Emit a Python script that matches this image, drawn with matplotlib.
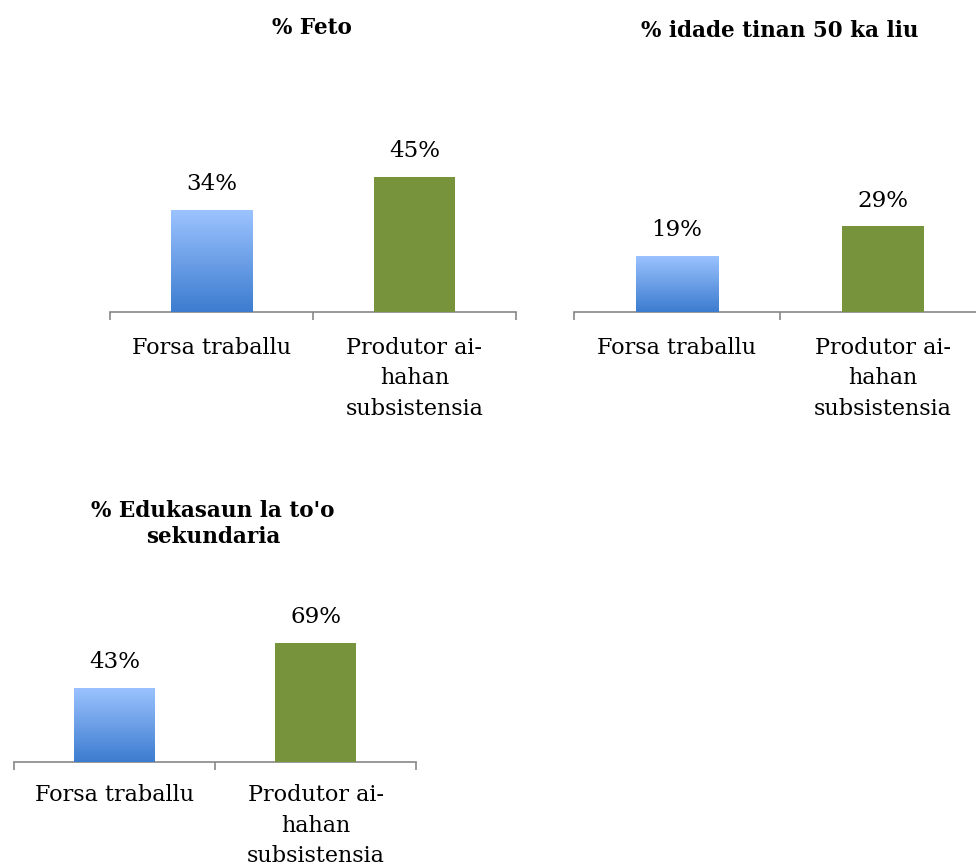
import numpy as np
import matplotlib.pyplot as plt
from matplotlib.colors import LinearSegmentedColormap

W, H = 976, 866

categories = ["Forsa traballu", "Produtor ai-\nhahan\nsubsistensia"]
titles = ["% Feto", "% idade tinan 50 ka liu", "% Edukasaun la to'o\nsekundaria"]
feto = [34, 45]
idade_50 = [19, 29]
edukasaun = [43, 69]
panels = [feto, idade_50, edukasaun]
ymax = [50, 50, 80]

# panel boxes in pixels: left, axis-line y, width, height
boxes = [(110, 312, 406, 150), (574, 312, 412, 147.5), (14, 762, 402, 138)]
title_xy = [(312, 28), (780, 31), (213, 524)]
label_pad = [18, 18, 16]

GREEN = "#77933C"
AXIS = "#878787"
blue_cmap = LinearSegmentedColormap.from_list("bl", ["#3C7CCF", "#9CC3FF"])

plt.rcParams["font.family"] = ["DejaVu Serif"]

fig = plt.figure(figsize=(W / 100, H / 100), dpi=100)

for vals, tt, ym, (l, yb, w, h), (tx, ty), pad in zip(panels, titles, ymax, boxes,
                                                       title_xy, label_pad):
    ax = fig.add_axes([l / W, (H - yb) / H, w / W, h / H])
    x = np.arange(len(vals))
    bars = ax.bar(x, vals, width=0.4, color=["none", GREEN], zorder=3)
    # blue gradient on the first bar
    b = bars[0]
    grad = np.linspace(0, 1, 256).reshape(-1, 1)
    im = ax.imshow(grad, cmap=blue_cmap, origin="lower", aspect="auto",
                   extent=[b.get_x(), b.get_x() + b.get_width(), 0, b.get_height()],
                   zorder=3)
    im.set_clip_path(b)
    for xi, v in zip(x, vals):
        ax.annotate(f"{v}%", (xi, v), xytext=(0, 10.5), textcoords="offset points",
                    ha="center", va="bottom", fontsize=16.5, color="black")
    ax.set_xlim(-0.5, len(vals) - 0.5)
    ax.set_ylim(0, ym)
    for s in ["top", "right", "left"]:
        ax.spines[s].set_visible(False)
    ax.spines["bottom"].set_color(AXIS)
    ax.spines["bottom"].set_linewidth(1.2)
    ax.set_yticks([])
    ax.set_xticks(x)
    ax.set_xticklabels(categories, fontsize=16, linespacing=1.5)
    ax.tick_params(axis="x", which="major", length=0, pad=pad)
    ax.set_xticks([-0.5, 0.5, 1.5], minor=True)
    ax.tick_params(axis="x", which="minor", length=6, width=1.2, color=AXIS)
    ax.patch.set_visible(False)
    fig.text(tx / W, 1 - ty / H, tt, ha="center", va="center",
             fontsize=15.5, fontweight="bold", linespacing=1.25)

fig.savefig("out.png", dpi=100)
